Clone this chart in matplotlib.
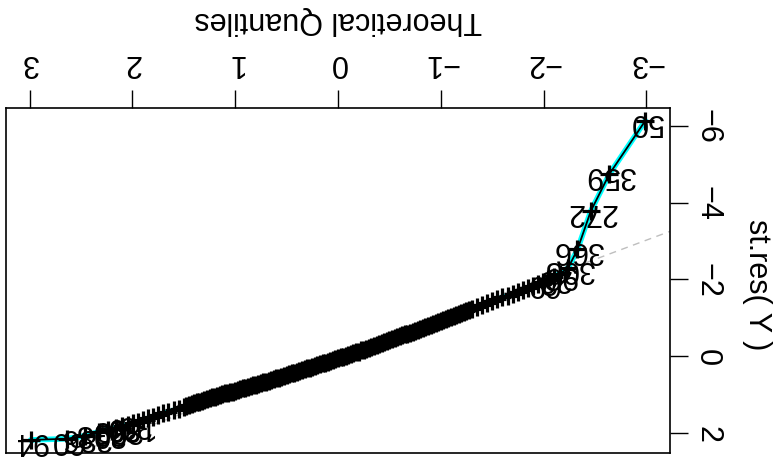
import matplotlib
matplotlib.use("Agg")
import matplotlib.pyplot as plt

plt.rcParams['font.family'] = ['Liberation Sans', 'DejaVu Sans']

# ---- data ----
lower_q = [-2.99, -2.64, -2.46, -2.33, -2.24, -2.16, -2.10, -2.04, -1.99, -1.95]
lower_r = [-6.13, -4.74, -3.78, -2.78, -2.30, -2.15, -2.07, -2.00, -1.94, -1.88]
lower_labels = ["50", "359", "272", "366", "308", "96", "26", "3", "69", ""]

mid_q = [-1.90, -1.85, -1.80, -1.75, -1.70, -1.65, -1.60, -1.55, -1.50, -1.45,
         -1.40, -1.35, -1.30, -1.25, -1.20, -1.15, -1.10, -1.05, -1.00, -0.95,
         -0.90, -0.85, -0.80, -0.75, -0.70, -0.65, -0.60, -0.55, -0.50, -0.45,
         -0.40, -0.35, -0.30, -0.25, -0.20, -0.15, -0.10, -0.05, 0.00, 0.05,
         0.10, 0.15, 0.20, 0.25, 0.30, 0.35, 0.40, 0.45, 0.50, 0.55,
         0.60, 0.65, 0.70, 0.75, 0.80, 0.85, 0.90, 0.95, 1.00, 1.05,
         1.10, 1.15, 1.20, 1.25, 1.30, 1.35, 1.40, 1.45, 1.50, 1.55,
         1.60, 1.65, 1.70, 1.75, 1.80, 1.85, 1.90, 1.95]
mid_r = [-1.83, -1.78, -1.72, -1.67, -1.62, -1.57, -1.53, -1.48, -1.43, -1.38,
         -1.33, -1.28, -1.23, -1.18, -1.13, -1.08, -1.02, -0.97, -0.92, -0.87,
         -0.81, -0.76, -0.71, -0.66, -0.61, -0.57, -0.52, -0.47, -0.42, -0.36,
         -0.31, -0.26, -0.22, -0.17, -0.12, -0.08, -0.03, 0.01, 0.06, 0.10,
         0.15, 0.19, 0.23, 0.28, 0.32, 0.36, 0.41, 0.45, 0.49, 0.54,
         0.58, 0.62, 0.66, 0.70, 0.74, 0.78, 0.82, 0.86, 0.90, 0.93,
         0.97, 1.01, 1.05, 1.09, 1.14, 1.18, 1.23, 1.27, 1.32, 1.37,
         1.41, 1.45, 1.49, 1.53, 1.57, 1.62, 1.66, 1.71]

# densely packed centre of the sample
dense_q = [-1.275, -1.225, -1.175, -1.125,
           -1.075, -1.025, -0.975, -0.925, -0.875, -0.825, -0.775, -0.725,
           -0.675, -0.625, -0.575, -0.525, -0.475, -0.425, -0.375, -0.325,
           -0.275, -0.225, -0.175, -0.125, -0.075, -0.025, 0.025, 0.075,
           0.125, 0.175, 0.225, 0.275, 0.325, 0.375, 0.425, 0.475,
           0.525, 0.575, 0.625, 0.675, 0.725, 0.775, 0.825, 0.875,
           0.925, 0.975, 1.025, 1.075, 1.125, 1.175,
           1.225, 1.275, 1.325, 1.375, 1.425, 1.475]
dense_r = [-1.21, -1.16, -1.10, -1.05,
           -0.99, -0.95, -0.90, -0.84, -0.79, -0.73, -0.69, -0.64,
           -0.59, -0.54, -0.50, -0.44, -0.39, -0.34, -0.29, -0.24,
           -0.19, -0.15, -0.10, -0.05, -0.01, 0.03, 0.08, 0.12,
           0.17, 0.21, 0.26, 0.30, 0.34, 0.38, 0.43, 0.47,
           0.51, 0.56, 0.60, 0.64, 0.68, 0.72, 0.76, 0.80,
           0.84, 0.88, 0.92, 0.95, 0.99, 1.03,
           1.07, 1.11, 1.16, 1.20, 1.25, 1.29]

upper_q = [1.99, 2.04, 2.10, 2.16, 2.24, 2.33, 2.46, 2.64, 2.99]
upper_r = [1.74, 1.78, 1.82, 1.86, 1.91, 1.97, 2.07, 2.15, 2.18]
upper_labels = ["38", "169", "89", "309", "93", "208", "386", "60", "94"]

qq_intercept = -0.02
qq_slope = 1.0

x_ticks = [-3, -2, -1, 0, 1, 2, 3]
x_tick_labels = ["\u22123", "\u22122", "\u22121", "0", "1", "2", "3"]
y_ticks = [-6, -4, -2, 0, 2]
y_tick_labels = ["\u22126", "\u22124", "\u22122", "0", "2"]
x_title = "Theoretical Quantiles"
y_title = "st.res( Y )"

FS = 22

# ---- figure ----
W, H = 778, 464
fig = plt.figure(figsize=(W / 100, H / 100), dpi=100)
ax = fig.add_axes([6 / W, 1 - 454 / H, (670 - 6) / W, (454 - 109) / H])
ax.set_xlim(3.23, -3.23)
ax.set_ylim(2.52, -6.46)

pairs = sorted(zip(lower_q + mid_q + dense_q + upper_q,
                   lower_r + mid_r + dense_r + upper_r))
all_q = [p[0] for p in pairs]
all_r = [p[1] for p in pairs]

# reference line
xl = ax.get_xlim()
ax.plot(list(xl), [qq_intercept + qq_slope * v for v in xl], color='#bebebe',
        lw=1.0, dashes=(5, 4), zorder=1)

ax.plot(all_q, all_r, color='#00ffff', lw=4.0, zorder=2, solid_capstyle='round')
ax.plot(all_q, all_r, color='black', lw=1.3, zorder=3)
ax.plot(all_q, all_r, linestyle='none', marker='+', color='black', ms=12.5,
        mew=2.3, zorder=4)

for q, r, lab in zip(lower_q + upper_q, lower_r + upper_r, lower_labels + upper_labels):
    if lab:
        ax.text(q, r, lab, rotation=180, ha='center', va='center', fontsize=FS,
                zorder=5)

ax.xaxis.tick_top()
ax.yaxis.tick_right()
ax.set_xticks(x_ticks)
ax.set_xticklabels(x_tick_labels, rotation=180)
ax.set_yticks(y_ticks)
ax.set_yticklabels(y_tick_labels, rotation=-90, va='center')
ax.tick_params(axis='both', length=13, width=1.0, labelsize=FS, color='black')
ax.tick_params(axis='x', pad=9)
ax.tick_params(axis='y', pad=3)
for s in ax.spines.values():
    s.set_linewidth(1.2)

fig.text(338 / W, 1 - 20 / H, x_title, rotation=180, ha='center', va='center',
         fontsize=FS)
fig.text(757 / W, 1 - 285 / H, y_title, rotation=-90, ha='center', va='center',
         fontsize=FS)

fig.savefig('out.png', dpi=100)
